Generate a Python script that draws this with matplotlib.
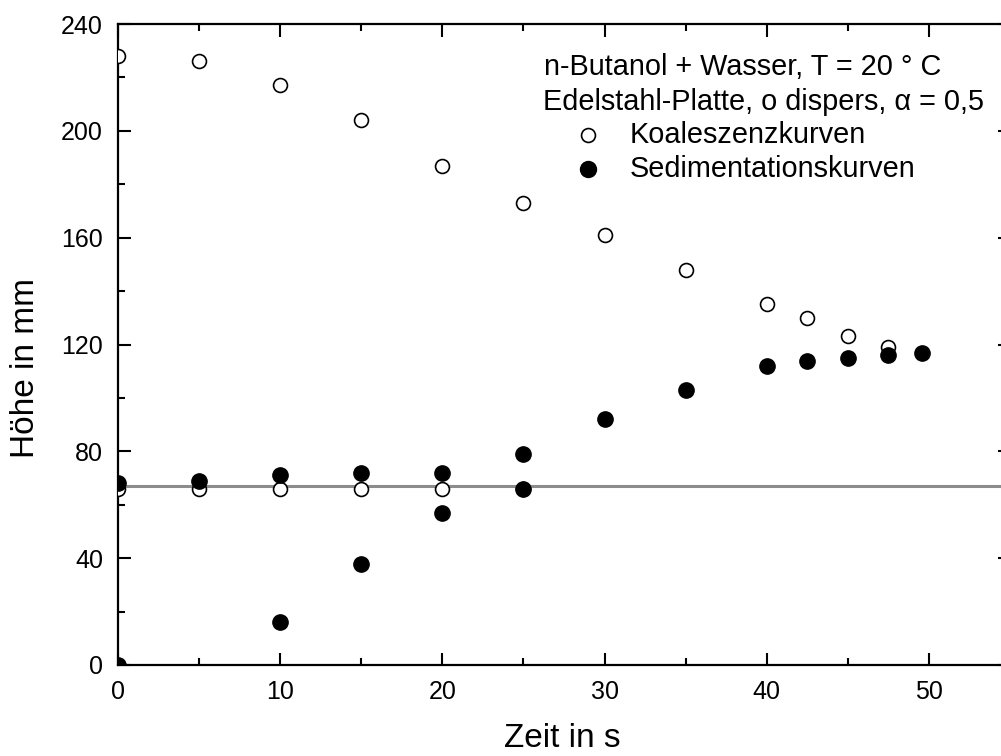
import matplotlib
matplotlib.use("Agg")
import matplotlib.pyplot as plt
from matplotlib.lines import Line2D
from matplotlib.ticker import MultipleLocator

plt.rcParams['font.family'] = ['Liberation Sans', 'DejaVu Sans']

# Koaleszenzkurven (open circles)
koal_t = [0, 5, 10, 15, 20, 25, 30, 35, 40, 42.5, 45, 47.5,
          0, 5, 10, 15, 20, 25]
koal_h = [228, 226, 217, 204, 187, 173, 161, 148, 135, 130, 123, 119,
          66, 66, 66, 66, 66, 66]

# Sedimentationskurven (filled circles)
sed_t = [0, 0, 5, 10, 10, 15, 15, 20, 20, 25, 25, 30, 35, 40, 42.5, 45, 47.5, 49.6]
sed_h = [0, 68, 69, 71, 16, 72, 38, 72, 57, 79, 66, 92, 103, 112, 114, 115, 116, 117]

ref_level = 67

header1 = "n-Butanol + Wasser, T = 20 ° C"
header2 = "Edelstahl-Platte, o dispers, α = 0,5"
label_koal = "Koaleszenzkurven"
label_sed = "Sedimentationskurven"

W, H = 1001, 756
fig = plt.figure(figsize=(W / 100, H / 100), dpi=100)

def fx(px):
    return px / W

def fy(py):
    return 1 - py / H

ax_l, ax_r, ax_t, ax_b = 118, 1010, 24, 665
ax = fig.add_axes([fx(ax_l), fy(ax_b), (ax_r - ax_l) / W, (ax_b - ax_t) / H])

ax.axhline(ref_level, color='#8c8c8c', lw=2.2, zorder=1)
ax.plot(koal_t, koal_h, 'o', ls='none', mfc='white', mec='black', ms=10, mew=1.2, zorder=3)
ax.plot(sed_t, sed_h, 'o', ls='none', mfc='black', mec='black', ms=11, zorder=3)

ax.set_xlim(0, 55)
ax.set_ylim(0, 240)
ax.xaxis.set_major_locator(MultipleLocator(10))
ax.xaxis.set_minor_locator(MultipleLocator(5))
ax.yaxis.set_major_locator(MultipleLocator(40))
ax.yaxis.set_minor_locator(MultipleLocator(20))
ax.tick_params(which='both', direction='in', top=True, right=True, width=1.5, colors='black')
ax.tick_params(which='major', length=9)
ax.tick_params(which='minor', length=5)
ax.tick_params(axis='x', which='major', labelsize=18, pad=11)
ax.tick_params(axis='y', which='major', labelsize=18, pad=10.8)
for s in ax.spines.values():
    s.set_linewidth(1.6)

ax.set_xlabel("Zeit in s", fontsize=24)
ax.set_ylabel("Höhe in mm", fontsize=24)
ax.xaxis.set_label_coords(0.498, -0.090)
ax.yaxis.set_label_coords(-0.086, 0.463)

fs = 20.8
fig.text(fx(544), fy(75), header1, fontsize=fs, va='baseline', ha='left')
fig.text(fx(543), fy(110), header2, fontsize=fs, va='baseline', ha='left')
fig.text(fx(630), fy(143), label_koal, fontsize=fs, va='baseline', ha='left')
fig.text(fx(630), fy(177), label_sed, fontsize=fs, va='baseline', ha='left')
fig.add_artist(Line2D([fx(588)], [fy(135)], marker='o', ls='none', mfc='white',
                      mec='black', ms=10, mew=1.2, transform=fig.transFigure))
fig.add_artist(Line2D([fx(588)], [fy(169)], marker='o', ls='none', mfc='black',
                      mec='black', ms=11.5, transform=fig.transFigure))

fig.savefig("out.png", dpi=100)
